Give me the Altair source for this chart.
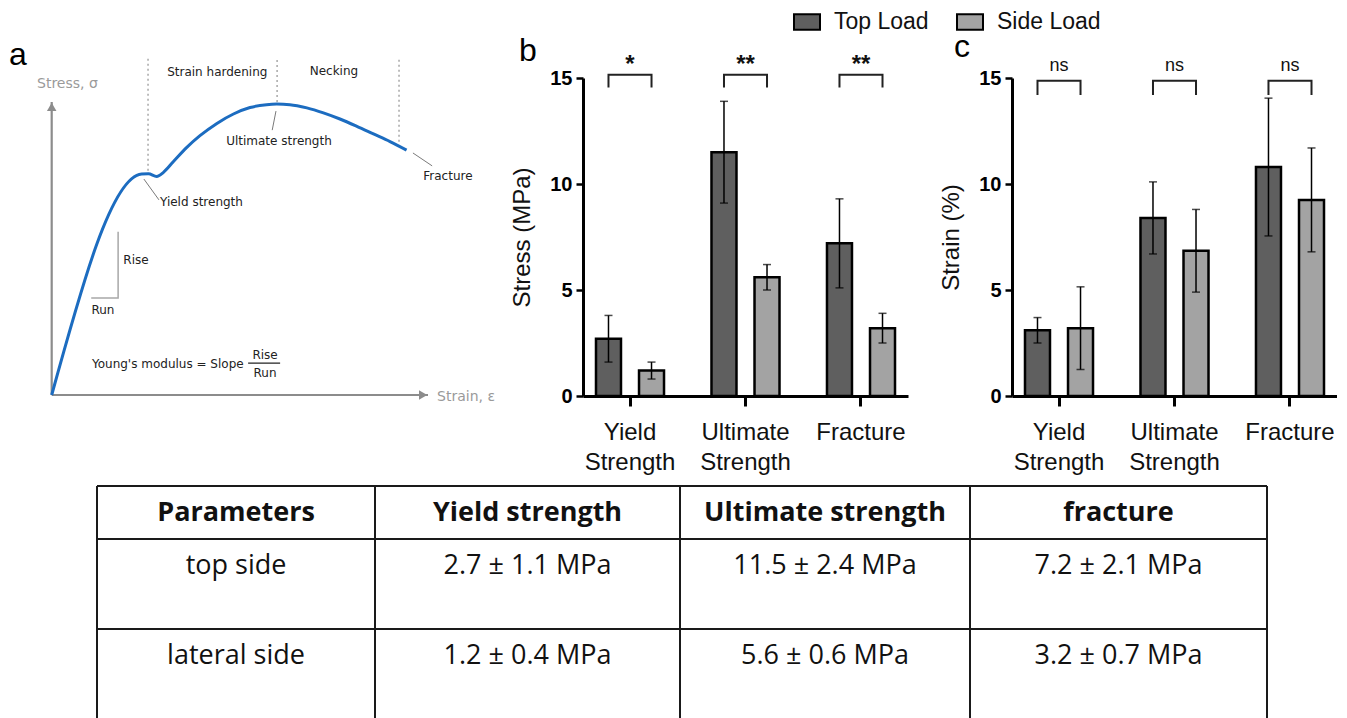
import altair as alt
import pandas as pd

# ---------------- data ----------------
params = ["Yield Strength", "Ultimate Strength", "Fracture"]
groups = ["Top Load", "Side Load"]

stress_top = [2.7, 11.5, 7.2]
stress_top_sd = [1.1, 2.4, 2.1]
stress_side = [1.2, 5.6, 3.2]
stress_side_sd = [0.4, 0.6, 0.7]
stress_sig = ["*", "**", "**"]

strain_top = [3.1, 8.4, 10.8]
strain_top_sd = [0.6, 1.7, 3.25]
strain_side = [3.2, 6.85, 9.25]
strain_side_sd = [1.95, 1.95, 2.45]
strain_sig = ["ns", "ns", "ns"]

# schematic stress-strain curve (normalised strain / stress)
curve_strain = [0, 0.239, 0.257, 0.279, 0.297, 0.323, 0.359, 0.394, 0.439, 0.483,
                0.527, 0.571, 0.598, 0.633, 0.678, 0.722, 0.766, 0.811, 0.855, 0.899, 0.943]
curve_stress = [0, 0.754, 0.755, 0.746, 0.760, 0.796, 0.845, 0.885, 0.927, 0.959,
                0.981, 0.991, 0.993, 0.991, 0.980, 0.963, 0.942, 0.917, 0.891, 0.865, 0.836]

region_strain = [0.256, 0.599, 0.923]
region_low = [0.765, 1.0, 0.864]
region_high = [1.154, 1.154, 1.154]

anno_text = ["Strain hardening", "Necking", "Ultimate strength", "Yield strength",
             "Fracture", "Rise", "Run"]
anno_strain = [0.440, 0.750, 0.604, 0.398, 1.053, 0.224, 0.136]
anno_stress = [1.102, 1.106, 0.867, 0.659, 0.747, 0.461, 0.290]

leader_s1 = [0.596, 0.245, 0.960]
leader_t1 = [0.969, 0.737, 0.826]
leader_s2 = [0.586, 0.285, 1.011]
leader_t2 = [0.904, 0.666, 0.782]

slope_s = [0.105, 0.1765, 0.1765]
slope_t = [0.331, 0.331, 0.557]

table_header = ["Parameters", "Yield strength", "Ultimate strength", "fracture"]
table_rows = ["top side", "lateral side"]

# ---------------- layout constants ----------------
BAR_W, BAR_H = 325, 318
A_W = 471
col_widths = [278, 305, 290, 297]
row_heights = [53, 90, 90]
TEXT_FONT = "Liberation Sans"
NO_FRAME = alt.ViewBackground(stroke="transparent", strokeWidth=0)

# ---------------- panel a: schematic ----------------
xs_a = alt.Scale(domain=[0, 1], range=[43.7, 420], nice=False, zero=False)
ys_a = alt.Scale(domain=[0, 1], range=[317, 24], nice=False, zero=False)


def ax(f):
    return alt.X(f, type="quantitative", scale=xs_a, axis=None)


def ay(f):
    return alt.Y(f, type="quantitative", scale=ys_a, axis=None)


def panel_letter(t, px, py):
    return alt.Chart(pd.DataFrame({"l": [t]})).mark_text(
        font=TEXT_FONT, fontSize=32, color="black", align="left", baseline="alphabetic"
    ).encode(x=alt.value(px), y=alt.value(py), text="l:N")


axes_df = pd.DataFrame({"s": [0, 0], "t": [0, 0], "s2": [0, 1.0], "t2": [1.0, 0]})
axes_a = alt.Chart(axes_df).mark_rule(color="#8c8c8c", strokeWidth=2.2).encode(
    x=ax("s"), y=ay("t"), x2="s2", y2="t2")
arrow_df = pd.DataFrame({"s": [0, 0.987], "t": [0.983, 0],
                         "shape": ["triangle-up", "triangle-right"]})
arrows_a = alt.Chart(arrow_df).mark_point(filled=True, color="#8c8c8c", size=90, opacity=1).encode(
    x=ax("s"), y=ay("t"), shape=alt.Shape("shape:N", scale=None, legend=None))

curve_df = pd.DataFrame({"s": curve_strain, "t": curve_stress, "i": range(len(curve_strain))})
curve = alt.Chart(curve_df).mark_line(color="#1c6cc0", strokeWidth=3, interpolate="monotone").encode(
    x=ax("s"), y=ay("t"), order="i:Q")

region_df = pd.DataFrame({"s": region_strain, "t": region_low, "t2": region_high})
regions = alt.Chart(region_df).mark_rule(color="#a8a8a8", strokeWidth=1.5, strokeDash=[2, 3]).encode(
    x=ax("s"), y=ay("t"), y2="t2")

leader_df = pd.DataFrame({"s": leader_s1, "t": leader_t1, "s2": leader_s2, "t2": leader_t2})
leaders = alt.Chart(leader_df).mark_rule(color="#7a7a7a", strokeWidth=1).encode(
    x=ax("s"), y=ay("t"), x2="s2", y2="t2")

slope_df = pd.DataFrame({"s": slope_s, "t": slope_t, "i": [0, 1, 2]})
slope = alt.Chart(slope_df).mark_line(color="#a8a8a8", strokeWidth=1.5).encode(
    x=ax("s"), y=ay("t"), order="i:Q")

frac_df = pd.DataFrame({"s": [0.522], "s2": [0.607], "t": [0.109]})
frac_bar = alt.Chart(frac_df).mark_rule(color="#222222", strokeWidth=1.2).encode(
    x=ax("s"), x2="s2", y=ay("t"))

anno_df = pd.DataFrame({"s": anno_strain, "t": anno_stress, "label": anno_text})
annos = alt.Chart(anno_df).mark_text(font="DejaVu Sans", fontSize=12, color="#222222").encode(
    x=ax("s"), y=ay("t"), text="label:N")

young_df = pd.DataFrame({"s": [0.107], "t": [0.106], "label": ["Young's modulus = Slope"]})
young = alt.Chart(young_df).mark_text(font="DejaVu Sans", fontSize=12, color="#222222",
                                      align="left").encode(x=ax("s"), y=ay("t"), text="label:N")
fr_df = pd.DataFrame({"s": [0.567, 0.567], "t": [0.137, 0.075], "label": ["Rise", "Run"]})
fr_text = alt.Chart(fr_df).mark_text(font="DejaVu Sans", fontSize=12, color="#222222").encode(
    x=ax("s"), y=ay("t"), text="label:N")

axlab_df = pd.DataFrame({"s": [-0.039, 1.024], "t": [1.061, -0.007],
                         "label": ["Stress, σ", "Strain, ε"]})
axlabs = alt.Chart(axlab_df).mark_text(font="DejaVu Sans", fontSize=14, color="#9a9a9a",
                                       align="left").encode(x=ax("s"), y=ay("t"), text="label:N")

panel_a = alt.layer(regions, axes_a, arrows_a, slope, curve, leaders, frac_bar, annos, young,
                    fr_text, axlabs, panel_letter("a", 1, -13)).properties(
    width=A_W, height=BAR_H, view=NO_FRAME)

# ---------------- panels b and c: bar charts ----------------
legend = alt.Legend(orient="none", legendX=785, legendY=-70, direction="horizontal", columns=2,
                    title=None, symbolType="M-1,-0.6L1,-0.6L1,0.6L-1,0.6Z", symbolSize=676,
                    symbolStrokeColor="black", symbolStrokeWidth=2, labelFont=TEXT_FONT,
                    labelFontSize=23, labelColor="#111111", labelOffset=13, columnPadding=24)


def bar_panel(top, top_sd, side, side_sd, sig, br_lo, br_hi, sig_y, sig_size, sig_weight,
              ytitle, letter):
    rows = []
    for i, p in enumerate(params):
        for g, v, sd in ((groups[0], top[i], top_sd[i]), (groups[1], side[i], side_sd[i])):
            rows.append({"param": p, "group": g, "value": v, "lo": v - sd, "hi": v + sd})
    df = pd.DataFrame(rows)
    br = []
    for p in params:
        br += [{"param": p, "group": groups[0], "y": br_lo, "k": 0},
               {"param": p, "group": groups[0], "y": br_hi, "k": 1},
               {"param": p, "group": groups[1], "y": br_hi, "k": 2},
               {"param": p, "group": groups[1], "y": br_lo, "k": 3}]
    brdf = pd.DataFrame(br)
    sigdf = pd.DataFrame({"param": params, "sig": sig, "y": [sig_y] * len(params)})

    xscale = alt.Scale(domain=params, paddingInner=0.411, paddingOuter=0.1125)
    xoscale = alt.Scale(domain=groups, paddingInner=0.419, paddingOuter=0)
    yscale = alt.Scale(domain=[0, 15], nice=False)
    xaxis = alt.Axis(title=None, labelAngle=0, domainColor="black", domainWidth=3,
                     tickColor="black", tickWidth=3, tickSize=10, labelFont=TEXT_FONT,
                     labelFontSize=24, labelColor="#111111", labelPadding=14, labelLineHeight=30,
                     labelExpr="split(datum.label, ' ')", labelLimit=0, grid=False)
    yaxis = alt.Axis(title=ytitle, values=[0, 5, 10, 15], grid=False, domainColor="black",
                     domainWidth=3, tickColor="black", tickWidth=2.5, tickSize=7,
                     labelFont=TEXT_FONT, labelFontWeight="bold", labelFontSize=20,
                     labelColor="black", labelPadding=4, titleFont=TEXT_FONT, titleFontSize=24,
                     titleFontWeight="normal", titleColor="#111111", titlePadding=16,
                     minExtent=33, maxExtent=33)

    def X():
        return alt.X("param:N", scale=xscale, axis=xaxis, sort=params)

    def XO():
        return alt.XOffset("group:N", scale=xoscale, sort=groups)

    def Y(f):
        return alt.Y(f, type="quantitative", scale=yscale, axis=yaxis)

    bars = alt.Chart(df).mark_bar(stroke="black", strokeWidth=2.5).encode(
        x=X(), xOffset=XO(), y=Y("value"),
        color=alt.Color("group:N", scale=alt.Scale(domain=groups, range=["#5f5f5f", "#a3a3a3"]),
                        legend=legend, sort=groups))
    err = alt.Chart(df).mark_rule(color="black", strokeWidth=1.5).encode(
        x=X(), xOffset=XO(), y=Y("lo"), y2="hi:Q")
    cap_hi = alt.Chart(df).mark_tick(color="black", thickness=1.5, size=8, orient="horizontal").encode(
        x=X(), xOffset=XO(), y=Y("hi"))
    cap_lo = alt.Chart(df).mark_tick(color="black", thickness=1.5, size=8, orient="horizontal").encode(
        x=X(), xOffset=XO(), y=Y("lo"))
    brackets = alt.Chart(brdf).mark_line(color="#222222", strokeWidth=2).encode(
        x=X(), xOffset=XO(), y=Y("y"), detail="param:N", order="k:Q")
    sigtext = alt.Chart(sigdf).mark_text(font=TEXT_FONT, fontSize=sig_size, fontWeight=sig_weight,
                                         color="#111111", baseline="alphabetic").encode(
        x=X(), y=Y("y"), text="sig:N")
    return alt.layer(bars, err, cap_hi, cap_lo, brackets, sigtext, letter).properties(
        width=BAR_W, height=BAR_H, view=NO_FRAME)


panel_b = bar_panel(stress_top, stress_top_sd, stress_side, stress_side_sd, stress_sig,
                    14.55, 15.15, 15.27, 24, "bold", "Stress (MPa)", panel_letter("b", -64, -17))
panel_c = bar_panel(strain_top, strain_top_sd, strain_side, strain_side_sd, strain_sig,
                    14.2, 14.87, 15.33, 18, "normal", "Strain (%)", panel_letter("c", -58, -21))

# ---------------- table ----------------
col_edges = [sum(col_widths[:i]) for i in range(len(col_widths) + 1)]
row_edges = [sum(row_heights[:i]) for i in range(len(row_heights) + 1)]
col_centers = [(col_edges[i] + col_edges[i + 1]) / 2 for i in range(len(col_widths))]
row_text_y = [row_edges[i] + 26.5 for i in range(len(row_heights))]

top_cells = [table_rows[0]] + [f"{m:.1f} ± {s:.1f} MPa" for m, s in zip(stress_top, stress_top_sd)]
lat_cells = [table_rows[1]] + [f"{m:.1f} ± {s:.1f} MPa" for m, s in zip(stress_side, stress_side_sd)]

txs = alt.Scale(domain=[0, col_edges[-1]], range=[89, 89 + col_edges[-1]], nice=False, zero=False)
tys = alt.Scale(domain=[0, row_edges[-1]], range=[0, row_edges[-1]], nice=False, zero=False)


def tx(f):
    return alt.X(f, type="quantitative", scale=txs, axis=None)


def ty(f):
    return alt.Y(f, type="quantitative", scale=tys, axis=None)


vlines_df = pd.DataFrame({"x": col_edges, "y": [0] * len(col_edges), "y2": [row_edges[-1]] * len(col_edges)})
hlines_df = pd.DataFrame({"y": row_edges, "x": [0] * len(row_edges), "x2": [col_edges[-1]] * len(row_edges)})
vlines = alt.Chart(vlines_df).mark_rule(color="#1a1a1a", strokeWidth=2).encode(
    x=tx("x"), y=ty("y"), y2="y2")
hlines = alt.Chart(hlines_df).mark_rule(color="#1a1a1a", strokeWidth=2.2).encode(
    y=ty("y"), x=tx("x"), x2="x2")

head_df = pd.DataFrame({"x": col_centers, "y": [row_text_y[0]] * 4, "label": table_header})
body_df = pd.DataFrame({"x": col_centers * 2,
                        "y": [row_text_y[1]] * 4 + [row_text_y[2]] * 4,
                        "label": top_cells + lat_cells})
head = alt.Chart(head_df).mark_text(font="Open Sans", fontSize=27, fontWeight="bold",
                                    color="#111111").encode(x=tx("x"), y=ty("y"), text="label:N")
body = alt.Chart(body_df).mark_text(font="Open Sans", fontSize=27, color="#111111").encode(
    x=tx("x"), y=ty("y"), text="label:N")

table = alt.layer(vlines, hlines, head, body).properties(width=1259, height=231, view=NO_FRAME)

# ---------------- assemble ----------------
top_row = alt.hconcat(panel_a, panel_b, panel_c, spacing=104, bounds="flush").resolve_scale(
    color="shared", x="independent", y="independent")
chart = alt.vconcat(top_row, table, spacing=BAR_H + 90, bounds="flush").resolve_scale(
    color="shared", x="independent", y="independent").properties(padding=0)
chart = chart.configure_view(stroke="transparent", strokeWidth=0).configure(font=TEXT_FONT)

chart.save("out.html", embed_options={"renderer": "svg", "actions": False})
